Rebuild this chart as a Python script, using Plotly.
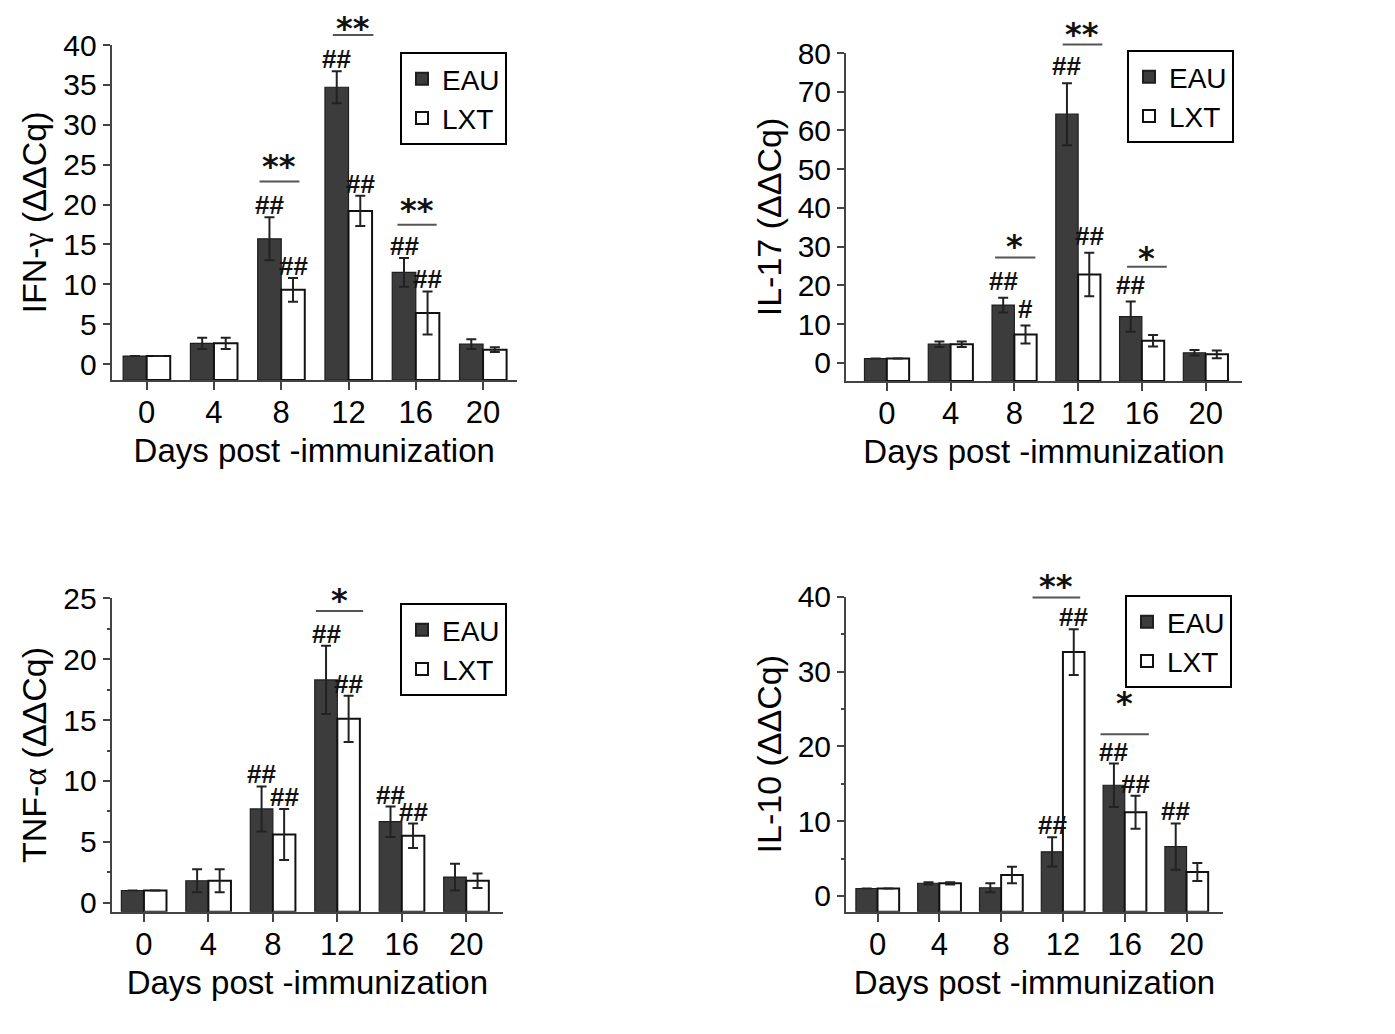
import plotly.graph_objects as go

# ---------------- data ----------------
days = ["0", "4", "8", "12", "16", "20"]

ifng_eau = [1.0, 2.6, 15.7, 34.7, 11.5, 2.5]
ifng_eau_err = [0, 0.7, 2.7, 2.0, 1.8, 0.6]
ifng_lxt = [1.0, 2.6, 9.3, 19.2, 6.4, 1.8]
ifng_lxt_err = [0, 0.7, 1.5, 1.9, 2.7, 0.3]

il17_eau = [1.1, 4.8, 14.9, 64.2, 11.9, 2.6]
il17_eau_err = [0, 0.7, 1.9, 8.0, 3.9, 0.7]
il17_lxt = [1.1, 4.8, 7.3, 22.8, 5.7, 2.2]
il17_lxt_err = [0, 0.7, 2.3, 5.6, 1.5, 1.0]

tnfa_eau = [1.0, 1.8, 7.7, 18.3, 6.65, 2.1]
tnfa_eau_err = [0, 0.95, 1.85, 2.8, 1.25, 1.1]
tnfa_lxt = [1.0, 1.8, 5.6, 15.1, 5.5, 1.8]
tnfa_lxt_err = [0, 0.95, 2.1, 1.9, 1.0, 0.6]

il10_eau = [1.0, 1.7, 1.1, 5.9, 14.8, 6.6]
il10_eau_err = [0, 0.15, 0.6, 1.95, 2.9, 3.1]
il10_lxt = [1.0, 1.7, 2.8, 32.6, 11.2, 3.2]
il10_lxt_err = [0, 0.15, 1.1, 3.05, 2.2, 1.2]

# "#" marks vs day 0: (day index, group, label)
ifng_hash = [(2, "EAU", "##"), (2, "LXT", "##"), (3, "EAU", "##"), (3, "LXT", "##"),
             (4, "EAU", "##"), (4, "LXT", "##")]
il17_hash = [(2, "EAU", "##"), (2, "LXT", "#"), (3, "EAU", "##"), (3, "LXT", "##"),
             (4, "EAU", "##")]
tnfa_hash = [(2, "EAU", "##"), (2, "LXT", "##"), (3, "EAU", "##"), (3, "LXT", "##"),
             (4, "EAU", "##"), (4, "LXT", "##")]
il10_hash = [(3, "EAU", "##"), (3, "LXT", "##"), (4, "EAU", "##"), (4, "LXT", "##"),
             (5, "EAU", "##")]

# "*" comparisons EAU vs LXT: (day index, bar level, star level, label)
ifng_star = [(2, 22.9, 25.2, "**"), (3, 41.25, 42.5, "**"), (4, 17.45, 19.7, "**")]
il17_star = [(2, 27.2, 30.9, "*"), (3, 82.2, 85.6, "**"), (4, 24.8, 27.8, "*")]
tnfa_star = [(3, 23.96, 25.1, "*")]
il10_star = [(3, 39.9, 41.8, "**"), (4, 21.6, 26.2, "*")]

# ---------------- styling / layout ----------------
FONT = "Liberation Sans, Arial, sans-serif"
STAR_FONT = "DejaVu Sans, Liberation Sans, sans-serif"
EAU_COLOR = "#3c3c3c"
AXIS_COLOR = "#444444"
OFF = 8                      # page body margin
W, H = 1395 - 2 * OFF, 1034 - 2 * OFF


def fx(px):
    return (px - OFF) / W


def fy(py):
    return 1 - (py - OFF) / H


panels = [
    dict(title="IFN-<span style='font-family:Liberation Serif'>γ</span> (ΔΔCq)",
         eau=ifng_eau, eau_err=ifng_eau_err, lxt=ifng_lxt, lxt_err=ifng_lxt_err,
         hashes=ifng_hash, stars=ifng_star, hash_shift=0,
         px=(111.7, 516.7), py=(45, 380), xr=(-0.52, 5.5), yr=(-2.0, 40), dtick=5, minor=None,
         leg=(507, 52),
         spans=[(-0.33, 0.27), (-0.24, 0.37), (-0.28, 0.31)]),
    dict(title="IL-17 (ΔΔCq)",
         eau=il17_eau, eau_err=il17_eau_err, lxt=il17_lxt, lxt_err=il17_lxt_err,
         hashes=il17_hash, stars=il17_star, hash_shift=5,
         px=(846, 1242), py=(53, 381), xr=(-0.64, 5.57), yr=(-4.7, 80), dtick=10, minor=None,
         leg=(1234, 50),
         spans=[(-0.31, 0.33), (-0.25, 0.38), (-0.24, 0.39)]),
    dict(title="TNF-<span style='font-family:Liberation Serif'>α</span> (ΔΔCq)",
         eau=tnfa_eau, eau_err=tnfa_eau_err, lxt=tnfa_lxt, lxt_err=tnfa_lxt_err,
         hashes=tnfa_hash, stars=tnfa_star, hash_shift=0,
         px=(111.7, 503), py=(598.3, 911.7), xr=(-0.5, 5.57), yr=(-0.74, 25), dtick=5, minor=2.5,
         leg=(507, 603),
         spans=[(-0.34, 0.40)]),
    dict(title="IL-10 (ΔΔCq)",
         eau=il10_eau, eau_err=il10_eau_err, lxt=il10_lxt, lxt_err=il10_lxt_err,
         hashes=il10_hash, stars=il10_star, hash_shift=0,
         px=(846, 1223), py=(596.7, 911.7), xr=(-0.51, 5.59), yr=(-2.1, 40), dtick=10, minor=5,
         leg=(1232, 595),
         spans=[(-0.50, 0.28), (-0.40, 0.39)]),
]

BAR_OFF = 0.175  # half of one bar's width in category units (bargap 0.3)

fig = go.Figure()
annotations = []
layout = {}
xpos = list(range(len(days)))

for i, p in enumerate(panels, start=1):
    sfx = "" if i == 1 else str(i)
    xa, ya = "x" + sfx, "y" + sfx
    yd = ya + " domain"
    leg = "legend" if i == 1 else "legend" + str(i)
    y0, y1 = p["yr"]

    def dom(v, y0=y0, y1=y1):
        return (v - y0) / (y1 - y0)

    fig.add_trace(go.Bar(
        x=xpos, y=[v - y0 for v in p["eau"]], base=y0, name="EAU",
        marker=dict(color=EAU_COLOR, line=dict(color="#1e1e1e", width=1.2)),
        error_y=dict(type="data", array=p["eau_err"], color="#222222", thickness=2, width=5),
        offsetgroup="EAU", xaxis=xa, yaxis=ya, legend=leg))
    fig.add_trace(go.Bar(
        x=xpos, y=[v - y0 for v in p["lxt"]], base=y0, name="LXT",
        marker=dict(color="white", line=dict(color="#111111", width=2)),
        error_y=dict(type="data", array=p["lxt_err"], color="#222222", thickness=2, width=5),
        offsetgroup="LXT", xaxis=xa, yaxis=ya, legend=leg))

    layout["xaxis" + sfx] = dict(
        domain=[fx(p["px"][0]), fx(p["px"][1])], range=list(p["xr"]), anchor=ya,
        tickvals=xpos, ticktext=days, ticks="outside", ticklen=8, tickwidth=2,
        tickcolor=AXIS_COLOR, showline=True, linecolor=AXIS_COLOR, linewidth=2,
        showgrid=False, zeroline=False, automargin=False, ticklabelstandoff=-4,
        tickfont=dict(family=FONT, size=31, color="black"),
        title=dict(text="Days post -immunization", standoff=10,
                   font=dict(family=FONT, size=33, color="black")))
    ydict = dict(
        domain=[fy(p["py"][1]), fy(p["py"][0])], range=list(p["yr"]), anchor=xa,
        tick0=0, dtick=p["dtick"], ticks="outside", ticklen=7, tickwidth=2,
        tickcolor=AXIS_COLOR, showline=True, linecolor=AXIS_COLOR, linewidth=2,
        showgrid=False, zeroline=False, automargin=False,
        tickfont=dict(family=FONT, size=30, color="black"),
        title=dict(text=p["title"], standoff=6,
                   font=dict(family=FONT, size=34, color="black")))
    if p["minor"]:
        ydict["minor"] = dict(dtick=p["minor"], tick0=0, ticks="outside", ticklen=3,
                              tickwidth=2, tickcolor=AXIS_COLOR, showgrid=False)
    layout["yaxis" + sfx] = ydict

    layout[leg] = dict(
        x=fx(p["leg"][0]), y=fy(p["leg"][1]), xanchor="right", yanchor="top",
        bordercolor="black", borderwidth=2, bgcolor="white",
        font=dict(family=FONT, size=28, color="black"),
        tracegroupgap=0, itemsizing="constant")

    # hash marks above error bars
    for (g, grp, txt) in p["hashes"]:
        vals, errs = (p["eau"], p["eau_err"]) if grp == "EAU" else (p["lxt"], p["lxt_err"])
        xoff = -BAR_OFF if grp == "EAU" else BAR_OFF
        annotations.append(dict(
            x=g + xoff, y=dom(vals[g] + errs[g]), xref=xa, yref=yd, text="<b>" + txt + "</b>",
            showarrow=False, yanchor="bottom", yshift=-4 + p["hash_shift"], borderpad=0,
            font=dict(family=FONT, size=26, color="#111111")))

    # significance bars and stars
    for (g, line_y, star_y, txt), (l, r) in zip(p["stars"], p["spans"]):
        annotations.append(dict(
            x=g + r, y=dom(line_y), ax=g + l, ay=dom(line_y),
            xref=xa, yref=yd, axref=xa, ayref=yd,
            text="", showarrow=True, arrowhead=0, arrowwidth=2, arrowcolor="#555555",
            standoff=0, startstandoff=0, borderpad=0))
        annotations.append(dict(
            x=g + (l + r) / 2, y=dom(star_y), xref=xa, yref=yd, text="<b>" + txt + "</b>",
            showarrow=False, yanchor="middle", yshift=-3, borderpad=0,
            font=dict(family=STAR_FONT, size=32, color="#111111")))

fig.update_layout(
    width=W, height=H, margin=dict(l=0, r=0, t=0, b=0),
    paper_bgcolor="white", plot_bgcolor="white",
    barmode="group", bargap=0.3, bargroupgap=0,
    showlegend=True, annotations=annotations,
    font=dict(family=FONT, color="black"),
    **layout)

fig.write_html("out.html")
